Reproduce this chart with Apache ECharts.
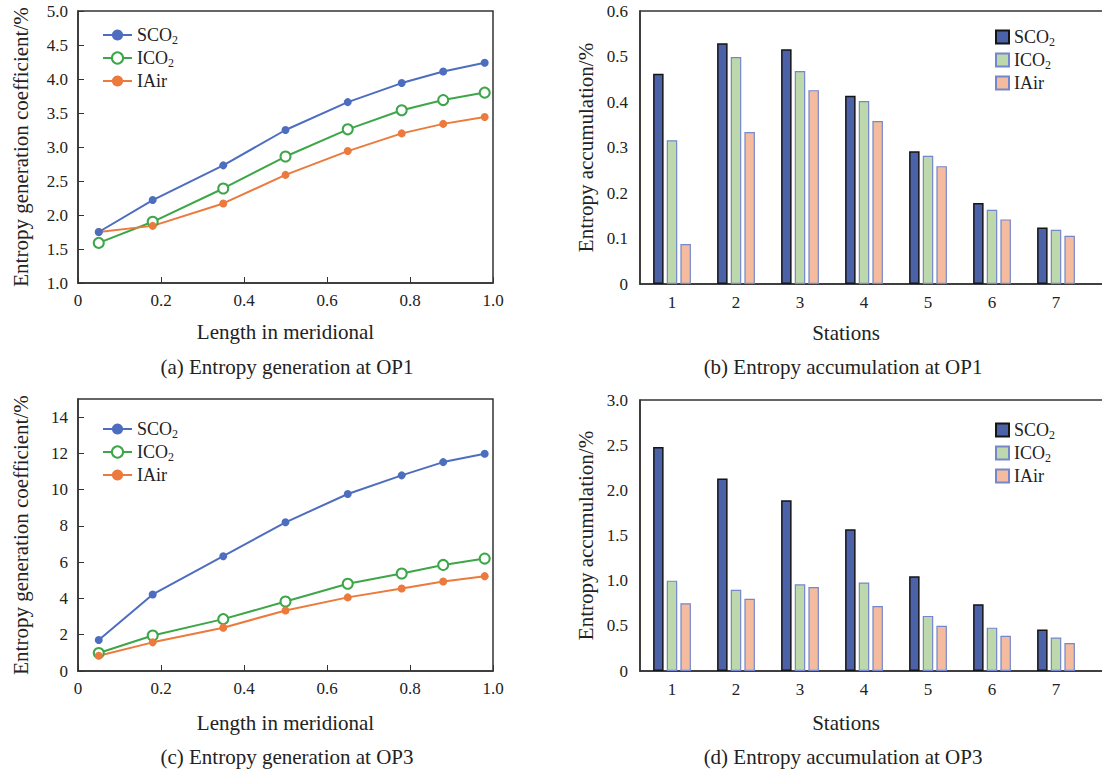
<!DOCTYPE html>
<html>
<head>
<meta charset="utf-8">
<script src="https://cdn.jsdelivr.net/npm/echarts@6/dist/echarts.min.js"></script>
<style>
html,body{margin:0;padding:0;background:#fff;}
#chart{width:1102px;height:774px;}
</style>
</head>
<body>
<div id="chart"></div>
<script>
// positions along the meridional length
const xPos = [0.05, 0.18, 0.35, 0.5, 0.65, 0.78, 0.88, 0.98];
// (a) entropy generation at OP1
const genOP1_SCO2 = [1.75, 2.22, 2.73, 3.25, 3.66, 3.94, 4.11, 4.24];
const genOP1_ICO2 = [1.59, 1.90, 2.39, 2.86, 3.26, 3.54, 3.69, 3.80];
const genOP1_IAir = [1.75, 1.84, 2.17, 2.59, 2.94, 3.20, 3.34, 3.44];
// (c) entropy generation at OP3
const genOP3_SCO2 = [1.71, 4.22, 6.33, 8.20, 9.76, 10.79, 11.52, 11.98];
const genOP3_ICO2 = [0.99, 1.96, 2.86, 3.83, 4.81, 5.38, 5.85, 6.20];
const genOP3_IAir = [0.84, 1.58, 2.39, 3.34, 4.06, 4.55, 4.94, 5.23];
// stations (last empty slot just lets the axis run off the right edge)
const stations = ['1', '2', '3', '4', '5', '6', '7', ''];
// (b) entropy accumulation at OP1
const accOP1_SCO2 = [0.462, 0.529, 0.516, 0.414, 0.292, 0.178, 0.124];
const accOP1_ICO2 = [0.316, 0.499, 0.468, 0.402, 0.282, 0.163, 0.119];
const accOP1_IAir = [0.088, 0.334, 0.426, 0.358, 0.259, 0.142, 0.106];
// (d) entropy accumulation at OP3
const accOP3_SCO2 = [2.48, 2.13, 1.89, 1.57, 1.05, 0.74, 0.46];
const accOP3_ICO2 = [1.00, 0.90, 0.96, 0.98, 0.61, 0.48, 0.37];
const accOP3_IAir = [0.75, 0.80, 0.93, 0.72, 0.50, 0.39, 0.31];

const FONT = '"Liberation Serif", "Times New Roman", serif';
const TXT = '#222';
const lineColors = {SCO2: '#4d6dbf', ICO2: '#3ca648', IAir: '#eb7a3c'};

const pairs = (ys) => ys.map((y, i) => [xPos[i], y]);
const fmt1 = (v) => (v === 0 ? '0' : v.toFixed(1));

function legendFmt(name) {
    const base = name.replace(' bar', '');
    return base.replace('O2', 'O{s|2}');
}
const legendText = {
    color: TXT, fontFamily: FONT, fontSize: 18, lineHeight: 22,
    rich: {s: {fontSize: 12, lineHeight: 12, verticalAlign: 'bottom', fontFamily: FONT, color: TXT}}
};

function lineSeries(name, ys, idx) {
    const c = lineColors[name];
    return {
        name: name, type: 'line', xAxisIndex: idx, yAxisIndex: idx,
        data: pairs(ys),
        symbol: name === 'ICO2' ? 'emptyCircle' : 'circle',
        symbolSize: name === 'ICO2' ? 10 : 8,
        lineStyle: {color: c, width: 2},
        itemStyle: {color: c, borderWidth: name === 'ICO2' ? 2 : 0},
        z: name === 'SCO2' ? 3 : 2
    };
}

function barSeries(name, ys, idx) {
    const styles = {
        SCO2: {color: '#4c62a8', borderColor: '#151515', borderWidth: 1.5},
        ICO2: {color: '#bdd8aa', borderColor: '#7487cc', borderWidth: 1.2},
        IAir: {color: '#f5bb9e', borderColor: '#7487cc', borderWidth: 1.2}
    };
    return {
        name: name + ' bar', type: 'bar', xAxisIndex: idx, yAxisIndex: idx,
        data: ys, barWidth: 10.5, barGap: '30%',
        itemStyle: styles[name]
    };
}

const grids = [
    {left: 78, top: 11, width: 415, height: 272},
    {left: 640, top: 11, width: 512, height: 273},
    {left: 78, top: 399, width: 415, height: 272},
    {left: 640, top: 400, width: 512, height: 271}
].map(g => Object.assign(g, {show: true, borderColor: '#333', borderWidth: 1.5, containLabel: false, outerBoundsMode: 'none'}));

const axisLine = {show: true, lineStyle: {color: '#333', width: 1.5}};
const tickLabel = {color: TXT, fontFamily: FONT, fontSize: 17};
const nameStyle = {color: TXT, fontFamily: FONT, fontSize: 21};

function meridAxis(gridIndex, gap) {
    return {
        type: 'value', gridIndex: gridIndex, min: 0, max: 1, interval: 0.2,
        name: 'Length in meridional', nameLocation: 'middle', nameGap: gap, nameTextStyle: nameStyle,
        axisLine: axisLine, axisTick: {inside: true, length: 6, lineStyle: {color: '#333'}},
        axisLabel: Object.assign({margin: 9, formatter: fmt1}, tickLabel),
        splitLine: {show: false}
    };
}
function stationAxis(gridIndex, gap) {
    return {
        type: 'category', gridIndex: gridIndex, data: stations,
        name: 'Stations', nameLocation: 'middle', nameGap: gap,
        // the grid runs past the page edge, so pull the name back to the visible middle
        nameTextStyle: Object.assign({padding: [0, 100, 0, 0]}, nameStyle),
        axisLine: axisLine, axisTick: {show: false},
        axisLabel: Object.assign({margin: 10, interval: 0}, tickLabel)
    };
}

const option = {
    animation: false,
    backgroundColor: '#fff',
    textStyle: {fontFamily: FONT, color: TXT},
    grid: grids,
    xAxis: [
        meridAxis(0, 38),
        stationAxis(1, 38),
        meridAxis(2, 41),
        stationAxis(3, 41)
    ],
    yAxis: [
        {
            type: 'value', gridIndex: 0, min: 1, max: 5, interval: 0.5,
            name: 'Entropy generation coefficient/%', nameLocation: 'middle', nameGap: 47, nameTextStyle: nameStyle,
            axisLine: axisLine, axisTick: {inside: true, length: 6, lineStyle: {color: '#333'}},
            axisLabel: Object.assign({margin: 10, formatter: (v) => v.toFixed(1)}, tickLabel),
            splitLine: {show: false}
        },
        {
            type: 'value', gridIndex: 1, min: 0, max: 0.6, interval: 0.1,
            name: 'Entropy accumulation/%', nameLocation: 'middle', nameGap: 44, nameTextStyle: nameStyle,
            axisLine: axisLine, axisTick: {show: false},
            axisLabel: Object.assign({margin: 12, formatter: fmt1}, tickLabel),
            splitLine: {show: false}
        },
        {
            type: 'value', gridIndex: 2, min: 0, max: 15, interval: 2,
            name: 'Entropy generation coefficient/%', nameLocation: 'middle', nameGap: 47, nameTextStyle: nameStyle,
            axisLine: axisLine, axisTick: {inside: true, length: 6, lineStyle: {color: '#333'}},
            axisLabel: Object.assign({margin: 10, showMaxLabel: false}, tickLabel),
            splitLine: {show: false}
        },
        {
            type: 'value', gridIndex: 3, min: 0, max: 3, interval: 0.5,
            name: 'Entropy accumulation/%', nameLocation: 'middle', nameGap: 44, nameTextStyle: nameStyle,
            axisLine: axisLine, axisTick: {show: false},
            axisLabel: Object.assign({margin: 12, formatter: fmt1}, tickLabel),
            splitLine: {show: false}
        }
    ],
    legend: [
        {data: ['SCO2', 'ICO2', 'IAir'], orient: 'vertical', left: 97, top: 19,
         itemWidth: 29, itemHeight: 14, itemGap: 1, formatter: legendFmt, textStyle: legendText},
        {data: ['SCO2 bar', 'ICO2 bar', 'IAir bar'], orient: 'vertical', left: 990, top: 21,
         icon: 'rect', itemWidth: 13, itemHeight: 13, itemGap: 1, formatter: legendFmt, textStyle: legendText},
        {data: ['SCO2', 'ICO2', 'IAir'], orient: 'vertical', left: 97, top: 413,
         itemWidth: 29, itemHeight: 14, itemGap: 1, formatter: legendFmt, textStyle: legendText},
        {data: ['SCO2 bar', 'ICO2 bar', 'IAir bar'], orient: 'vertical', left: 990, top: 414,
         icon: 'rect', itemWidth: 13, itemHeight: 13, itemGap: 1, formatter: legendFmt, textStyle: legendText}
    ],
    series: [
        lineSeries('SCO2', genOP1_SCO2, 0),
        lineSeries('ICO2', genOP1_ICO2, 0),
        lineSeries('IAir', genOP1_IAir, 0),
        barSeries('SCO2', accOP1_SCO2, 1),
        barSeries('ICO2', accOP1_ICO2, 1),
        barSeries('IAir', accOP1_IAir, 1),
        lineSeries('SCO2', genOP3_SCO2, 2),
        lineSeries('ICO2', genOP3_ICO2, 2),
        lineSeries('IAir', genOP3_IAir, 2),
        barSeries('SCO2', accOP3_SCO2, 3),
        barSeries('ICO2', accOP3_ICO2, 3),
        barSeries('IAir', accOP3_IAir, 3)
    ],
    graphic: [
        {type: 'text', x: 287, y: 367, style: {text: '(a) Entropy generation at OP1', align: 'center', verticalAlign: 'middle', font: '21px ' + FONT, fill: TXT}},
        {type: 'text', x: 843, y: 367, style: {text: '(b) Entropy accumulation at OP1', align: 'center', verticalAlign: 'middle', font: '21px ' + FONT, fill: TXT}},
        {type: 'text', x: 287, y: 757, style: {text: '(c) Entropy generation at OP3', align: 'center', verticalAlign: 'middle', font: '21px ' + FONT, fill: TXT}},
        {type: 'text', x: 843, y: 757, style: {text: '(d) Entropy accumulation at OP3', align: 'center', verticalAlign: 'middle', font: '21px ' + FONT, fill: TXT}}
    ]
};

const chart = echarts.init(document.getElementById('chart'), null, {renderer: 'svg'});
chart.setOption(option);
</script>
</body>
</html>
